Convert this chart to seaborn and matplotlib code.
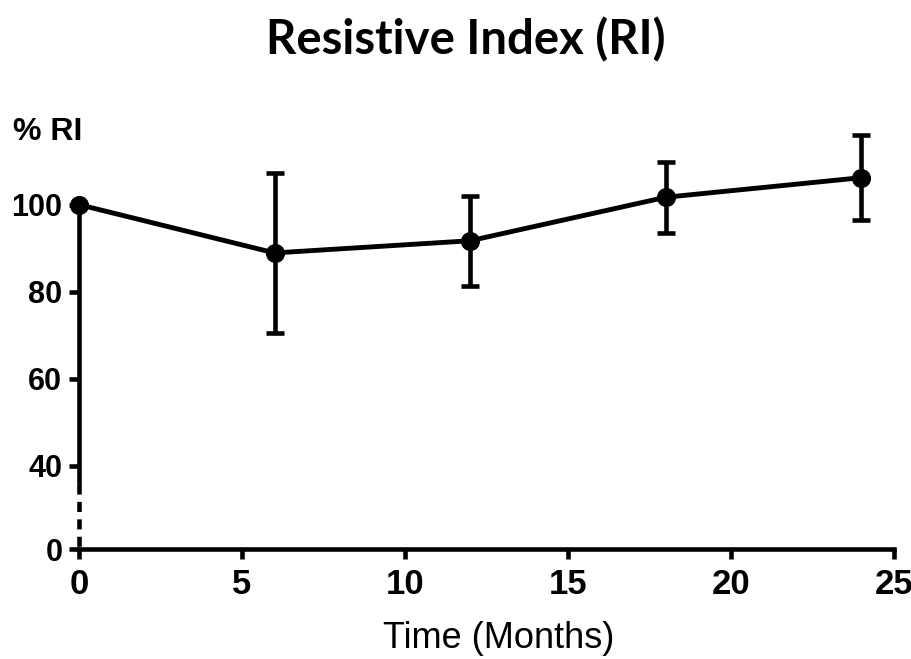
import numpy as np
import pandas as pd
import matplotlib
matplotlib.use('Agg')
import matplotlib.pyplot as plt
import seaborn as sns
from matplotlib.ticker import NullLocator

# --- data ---
months = [0, 6, 12, 18, 24]
ri_mean = [100.0, 88.9, 91.7, 101.7, 106.2]
ri_sd = [0.0, 18.4, 10.4, 8.2, 9.8]
x_ticks = [0, 5, 10, 15, 20, 25]
y_ticks = [0, 40, 60, 80, 100]

df = pd.DataFrame({'Time': months, 'RI': ri_mean, 'SD': ri_sd})

sns.set_style('ticks')
plt.rcParams['font.family'] = ['Liberation Sans', 'DejaVu Sans']
plt.rcParams['text.color'] = 'black'
plt.rcParams['axes.edgecolor'] = 'black'
plt.rcParams['xtick.color'] = 'black'
plt.rcParams['ytick.color'] = 'black'

# broken y axis: everything below 40 is squeezed
K = 0.479
def fwd(y):
    y = np.asarray(y, dtype=float)
    return np.where(y >= 40, y, 40 - (40 - y) * K)

def inv(t):
    t = np.asarray(t, dtype=float)
    return np.where(t >= 40, t, 40 - (40 - t) / K)

fig = plt.figure(figsize=(9.12, 6.59), dpi=100)
ax = fig.add_axes([0.0866, 0.1669, 0.8936, 0.6546])
ax.set_yscale('function', functions=(fwd, inv))

ax.errorbar(df['Time'], df['RI'], yerr=df['SD'], fmt='none', ecolor='black',
            elinewidth=3.3, capsize=6.5, capthick=3.3, clip_on=False, zorder=3)
sns.lineplot(data=df, x='Time', y='RI', ax=ax, color='black', linewidth=3.5,
             marker='o', markersize=13, markeredgecolor='black', clip_on=False, zorder=4)

ax.set_xlim(0, 25)
ax.set_ylim(0, 120)
ax.set_xticks(x_ticks)
ax.set_yticks(y_ticks)
ax.yaxis.set_minor_locator(NullLocator())
ax.set_xlabel('')
ax.set_ylabel('')

sns.despine(ax=ax)
for s in ['left', 'bottom']:
    ax.spines[s].set_linewidth(3.3)
ax.spines['left'].set_bounds(32, 100)
ax.spines['bottom'].set_bounds(0, 25)
# dotted part of the broken axis
ax.plot([0, 0], [31, 0], color='black', lw=3.3, ls=(0, (2.2, 1.6)), clip_on=False)

ax.tick_params(axis='both', length=7, width=3.3, color='black', labelcolor='black')
ax.tick_params(axis='y', pad=5)
ax.tick_params(axis='x', pad=7)
for lab in ax.get_yticklabels():
    lab.set_fontsize(22)
    lab.set_fontweight('bold')
for lab in ax.get_xticklabels():
    lab.set_fontsize(25)
    lab.set_fontweight('bold')

fig.text(0.511, 0.939, 'Resistive Index (RI)', ha='center', va='center',
         fontsize=34, fontweight='bold', family=['Lato', 'DejaVu Sans'])
fig.text(13 / 912, (659 - 140) / 659, '% RI', ha='left', va='baseline',
         fontsize=23, fontweight='bold')
fig.text(499 / 912, (659 - 639) / 659, 'Time (Months)', ha='center', va='center',
         fontsize=26)

fig.savefig('out.png', dpi=100)
